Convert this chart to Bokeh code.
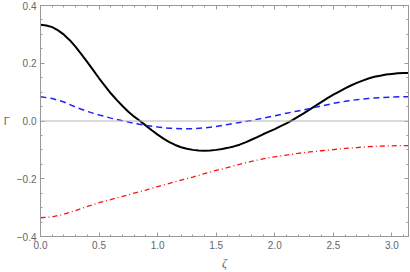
from bokeh.plotting import figure
from bokeh.models import (ColumnDataSource, Range1d, LinearAxis, FixedTicker,
                          CustomJSTickFormatter, Span)
from bokeh.embed import file_html
from bokeh.resources import INLINE

# solid curve, read at a finer step
zeta_fine = [0.00, 0.05, 0.10, 0.15, 0.20, 0.25, 0.30, 0.35, 0.40, 0.45, 0.50,
             0.55, 0.60, 0.65, 0.70, 0.75, 0.80, 0.85, 0.90, 0.95, 1.00, 1.05,
             1.10, 1.15, 1.20, 1.25, 1.30, 1.35, 1.40, 1.45, 1.50, 1.55, 1.60,
             1.65, 1.70, 1.75, 1.80, 1.85, 1.90, 1.95, 2.00, 2.05, 2.10, 2.15,
             2.20, 2.25, 2.30, 2.35, 2.40, 2.45, 2.50, 2.55, 2.60, 2.65, 2.70,
             2.75, 2.80, 2.85, 2.90, 2.95, 3.00, 3.05, 3.10, 3.14159]
gamma_solid = [0.333, 0.331, 0.325, 0.314, 0.299, 0.280, 0.257, 0.231, 0.204,
               0.176, 0.148, 0.122, 0.096, 0.073, 0.052, 0.032, 0.015, 0.000,
               -0.016, -0.032, -0.047, -0.061, -0.073, -0.083, -0.091, -0.096,
               -0.100, -0.102, -0.103, -0.102, -0.100, -0.097, -0.093, -0.088,
               -0.082, -0.074, -0.065, -0.056, -0.046, -0.037, -0.028, -0.018,
               -0.008, 0.003, 0.015, 0.027, 0.040, 0.053, 0.066, 0.079, 0.091,
               0.102, 0.113, 0.123, 0.132, 0.140, 0.147, 0.153, 0.157, 0.161,
               0.163, 0.165, 0.166, 0.166]

zeta = [0.0, 0.1, 0.2, 0.3, 0.4, 0.5, 0.6, 0.7, 0.8, 0.9, 1.0, 1.1, 1.2, 1.3,
        1.4, 1.5, 1.6, 1.7, 1.8, 1.9, 2.0, 2.1, 2.2, 2.3, 2.4, 2.5, 2.6, 2.7,
        2.8, 2.9, 3.0, 3.1, 3.14159]
gamma_dashed = [0.084, 0.078, 0.066, 0.048, 0.033, 0.021, 0.010, 0.001, -0.008,
                -0.015, -0.021, -0.025, -0.027, -0.027, -0.024, -0.019, -0.012,
                -0.005, 0.002, 0.010, 0.018, 0.027, 0.035, 0.043, 0.052, 0.061,
                0.068, 0.074, 0.078, 0.081, 0.083, 0.084, 0.084]
gamma_dotdash = [-0.335, -0.332, -0.323, -0.310, -0.296, -0.283, -0.272, -0.261,
                 -0.250, -0.239, -0.227, -0.216, -0.205, -0.194, -0.182, -0.171,
                 -0.161, -0.150, -0.140, -0.131, -0.124, -0.118, -0.112, -0.107,
                 -0.103, -0.099, -0.095, -0.092, -0.089, -0.087, -0.086, -0.085,
                 -0.085]

x_major = [0.0, 0.5, 1.0, 1.5, 2.0, 2.5, 3.0]
x_minor = [i / 10 for i in range(0, 32)]
y_major = [-0.4, -0.2, 0.0, 0.2, 0.4]
y_minor = [-0.4 + i * 0.05 for i in range(0, 17)]

src_fine = ColumnDataSource(dict(z=zeta_fine, a=gamma_solid))
src = ColumnDataSource(dict(z=zeta, b=gamma_dashed, c=gamma_dotdash))

p = figure(width=410, height=272, output_backend="svg", toolbar_location=None,
           x_range=Range1d(0, 3.14159), y_range=Range1d(-0.4, 0.4),
           min_border_left=38, min_border_right=2, min_border_top=5,
           min_border_bottom=35, x_axis_location=None, y_axis_location=None)
p.grid.visible = False
p.outline_line_color = "#999999"
p.background_fill_color = "white"
p.border_fill_color = "white"

fmt = CustomJSTickFormatter(code="return tick.toFixed(1).replace('-', '\u2212');")
FRAME = "#999999"
LABEL = "#666666"

def make_axis(ticks, minor, show_labels, label=None):
    ax = LinearAxis(ticker=FixedTicker(ticks=ticks, minor_ticks=minor),
                    formatter=fmt)
    ax.axis_line_color = FRAME
    ax.major_tick_line_color = FRAME
    ax.minor_tick_line_color = FRAME
    ax.major_tick_in = 4
    ax.major_tick_out = 0
    ax.minor_tick_in = 2
    ax.minor_tick_out = 0
    ax.major_label_standoff = 4
    ax.major_label_text_font = "Liberation Sans"
    ax.major_label_text_font_size = "10px"
    ax.major_label_text_color = LABEL
    if not show_labels:
        ax.major_label_text_alpha = 0
        ax.major_label_text_font_size = "0px"
        ax.major_label_standoff = 0
    if label is not None:
        ax.axis_label = label
        ax.axis_label_text_color = LABEL
        ax.axis_label_text_font_style = "normal"
    return ax

bx = make_axis(x_major, x_minor, True, "ζ")
bx.axis_label_text_font = "Liberation Serif"
bx.axis_label_text_font_style = "italic"
bx.axis_label_text_font_size = "12px"
bx.axis_label_standoff = 4
p.add_layout(bx, "below")

ly = make_axis(y_major, y_minor, True, "Γ")
ly.axis_label_orientation = "horizontal"
ly.axis_label_text_font = "Liberation Sans"
ly.axis_label_text_font_size = "11px"
ly.axis_label_standoff = 4
p.add_layout(ly, "left")

p.add_layout(make_axis(x_major, x_minor, False), "above")
p.add_layout(make_axis(y_major, y_minor, False), "right")

p.add_layout(Span(location=0, dimension="width", line_color="#b5b5b5", line_width=1))

p.line("z", "a", source=src_fine, line_color="black", line_width=2)
p.line("z", "b", source=src, line_color="#1f1fff", line_width=1.5, line_dash="6 4")
p.line("z", "c", source=src, line_color="#ff1010", line_width=1.3, line_dash="5 3 1 3")

open("out.html", "w").write(file_html(p, INLINE))
